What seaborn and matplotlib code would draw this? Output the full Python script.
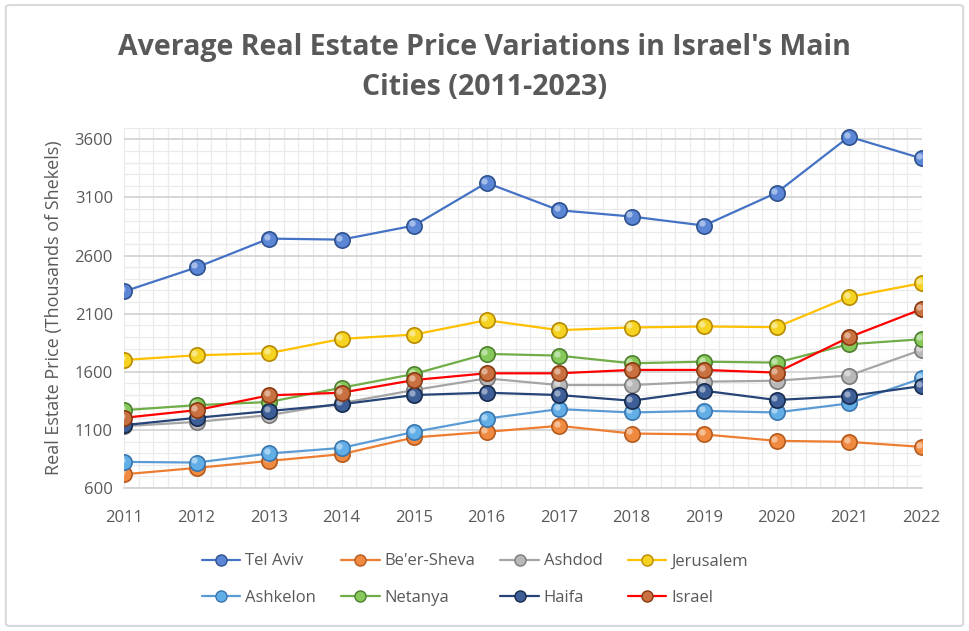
import numpy as np
import pandas as pd
import matplotlib.pyplot as plt
import matplotlib.transforms as mtransforms
from matplotlib.lines import Line2D
from matplotlib.patches import FancyBboxPatch
from matplotlib.ticker import MultipleLocator
import seaborn as sns

years = list(range(2011, 2023))

tel_aviv = [2291, 2498, 2746, 2737, 2858, 3226, 2990, 2936, 2858, 3140, 3623, 3436]
beer_sheva = [718, 773, 833, 891, 1035, 1083, 1135, 1069, 1061, 1006, 997, 954]
ashdod = [1132, 1169, 1227, 1330, 1443, 1543, 1486, 1486, 1515, 1523, 1568, 1788]
jerusalem = [1702, 1742, 1760, 1883, 1920, 2044, 1958, 1981, 1990, 1984, 2243, 2363]
ashkelon = [825, 819, 897, 945, 1083, 1197, 1279, 1250, 1264, 1250, 1328, 1543]
netanya = [1270, 1313, 1340, 1463, 1581, 1754, 1739, 1673, 1687, 1679, 1837, 1880]
haifa = [1141, 1204, 1262, 1320, 1400, 1420, 1400, 1351, 1437, 1357, 1391, 1477]
israel = [1204, 1270, 1397, 1420, 1529, 1587, 1587, 1616, 1616, 1593, 1897, 2139]

cities = ["Tel Aviv", "Be'er-Sheva", "Ashdod", "Jerusalem",
          "Ashkelon", "Netanya", "Haifa", "Israel"]
series = [tel_aviv, beer_sheva, ashdod, jerusalem, ashkelon, netanya, haifa, israel]

# line colour, marker face, marker edge
styles = {
    "Tel Aviv": ("#4472C4", "#5B86D6", "#2F528F"),
    "Be'er-Sheva": ("#ED7D31", "#F08A40", "#B55A1E"),
    "Ashdod": ("#A5A5A5", "#B8B8B8", "#7A7A7A"),
    "Jerusalem": ("#FFC000", "#F5D320", "#B88A00"),
    "Ashkelon": ("#5B9BD5", "#62AEE6", "#3A76AD"),
    "Netanya": ("#70AD47", "#86C95A", "#4E7F30"),
    "Haifa": ("#264478", "#3D5E96", "#172B4D"),
    "Israel": ("#FF0000", "#C8703F", "#8A3A12"),
}

df = pd.DataFrame({"year": np.tile(years, len(cities)),
                   "city": np.repeat(cities, len(years)),
                   "price": np.concatenate(series)})

sns.set_style("white")
plt.rcParams["font.family"] = ["Open Sans", "DejaVu Sans"]

fig = plt.figure(figsize=(9.69, 6.31), dpi=100)
ax = fig.add_axes([0.128, 0.2266, 0.823, 0.571])

# grid
ax.yaxis.set_major_locator(MultipleLocator(500))
ax.yaxis.set_minor_locator(MultipleLocator(100))
ax.xaxis.set_major_locator(MultipleLocator(1))
ax.xaxis.set_minor_locator(MultipleLocator(0.2))
ax.grid(which="minor", color="#EBEBEB", linewidth=0.9)
ax.grid(which="major", axis="x", color="#EBEBEB", linewidth=0.9)
ax.grid(which="major", axis="y", color="#D4D4D4", linewidth=1.3)
ax.set_axisbelow(True)

hl = mtransforms.ScaledTranslation(-1.5 / 72, 1.5 / 72, fig.dpi_scale_trans)
handles = {}
for city in cities:
    lc, fc, ec = styles[city]
    sub = df[df.city == city]
    sns.lineplot(data=sub, x="year", y="price", ax=ax, color=lc, linewidth=1.6,
                 marker="o", markersize=11, markerfacecolor=fc,
                 markeredgecolor=ec, markeredgewidth=1.2, label=city, legend=False)
    ax.plot(sub.year, sub.price, linestyle="none", marker="o", markersize=4.5,
            markerfacecolor="white", markeredgewidth=0, alpha=0.45,
            transform=ax.transData + hl)
    handles[city] = Line2D([], [], color=lc, linewidth=1.6, marker="o",
                           markersize=8, markerfacecolor=fc, markeredgecolor=ec,
                           markeredgewidth=1)

ax.set_xlim(2011, 2022)
ax.set_ylim(600, 3700)
ax.set_yticks(range(600, 3700, 500))
ax.set_xlabel("")
ax.set_ylabel("Real Estate Price (Thousands of Shekels)", fontsize=13,
              color="#595959", labelpad=8)
ax.tick_params(axis="both", which="both", length=0, labelsize=12,
               labelcolor="#595959")
ax.tick_params(axis="x", pad=16)
ax.tick_params(axis="y", pad=8)
for s in ["top", "right", "left"]:
    ax.spines[s].set_visible(False)
ax.spines["bottom"].set_color("#D4D4D4")
ax.spines["bottom"].set_linewidth(1.3)

fig.text(0.5, 0.893, "Average Real Estate Price Variations in Israel's Main\nCities (2011-2023)",
         ha="center", va="center", fontsize=20.5, fontweight="bold",
         color="#595959", linespacing=1.5)

order = ["Tel Aviv", "Ashkelon", "Be'er-Sheva", "Netanya",
         "Ashdod", "Haifa", "Jerusalem", "Israel"]
fig.legend([handles[c] for c in order], order, ncol=4, loc="center",
           bbox_to_anchor=(0.49, 0.081), frameon=False, fontsize=12,
           labelcolor="#595959", handlelength=2.3, handletextpad=0.3,
           columnspacing=1.5, labelspacing=1.25)

# outer chart border
fig.patches.append(FancyBboxPatch((0.006, 0.008), 0.988, 0.984,
                                  boxstyle="round,pad=0,rounding_size=0.004",
                                  transform=fig.transFigure, fill=False,
                                  edgecolor="#D9D9D9", linewidth=1.5))

fig.savefig("out.png", dpi=100)
